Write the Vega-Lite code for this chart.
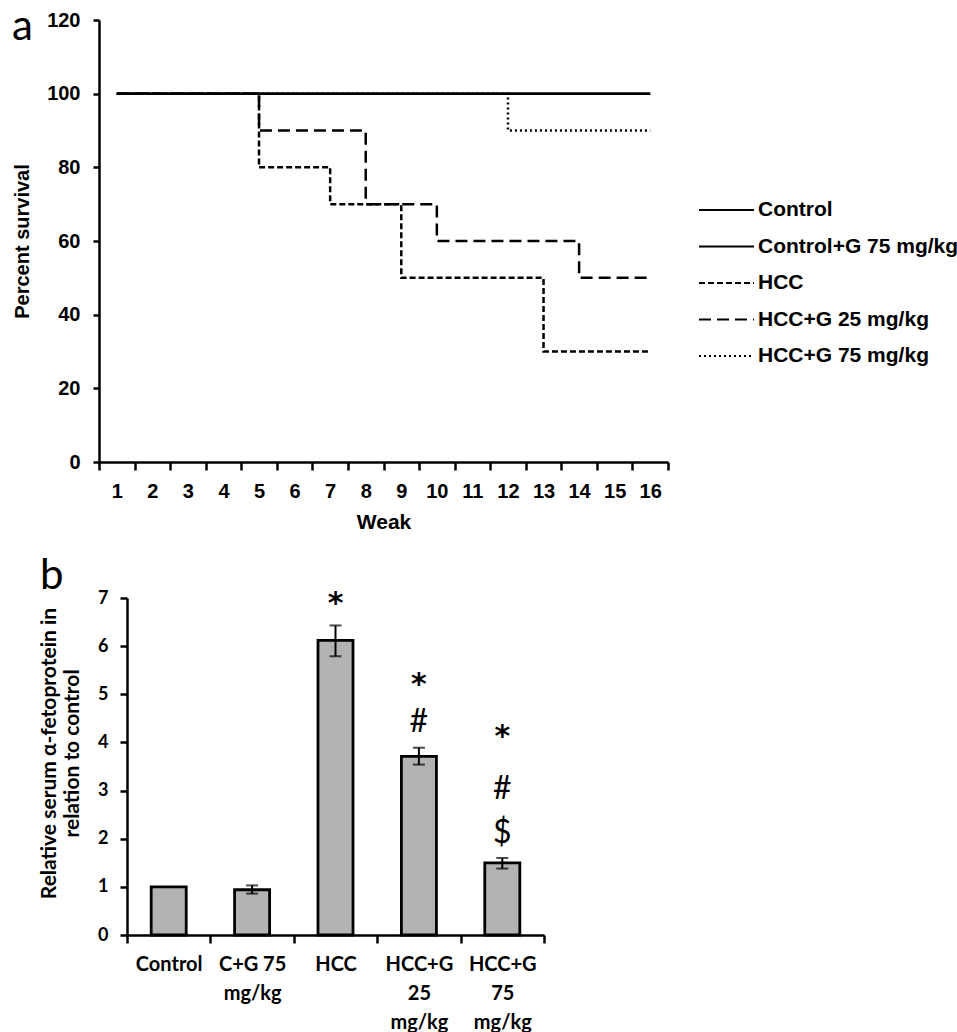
{
  "$schema": "https://vega.github.io/schema/vega-lite/v6.json",
  "padding": {"left": 12, "top": 6, "right": 0, "bottom": 0},
  "background": "white",
  "bounds": "flush",
  "spacing": 136,
  "config": {
    "view": {"stroke": null},
    "axis": {"domainColor": "black", "tickColor": "black", "labelColor": "black", "titleColor": "black", "grid": false, "domainWidth": 2.5, "tickWidth": 2.5}
  },
  "vconcat": [
    {
      "width": 569,
      "height": 442,
      "title": {"text": "a", "anchor": "start", "frame": "group", "font": "Lato", "fontSize": 42, "fontWeight": "normal", "color": "black", "baseline": "alphabetic", "dx": -87, "dy": 72, "offset": 0},
      "data": {"values": [
        {"group": "Control", "week": 1, "survival": 100},
        {"group": "Control", "week": 16, "survival": 100},
        {"group": "Control+G 75 mg/kg", "week": 1, "survival": 100},
        {"group": "Control+G 75 mg/kg", "week": 16, "survival": 100},
        {"group": "HCC", "week": 1, "survival": 100},
        {"group": "HCC", "week": 5, "survival": 80},
        {"group": "HCC", "week": 7, "survival": 70},
        {"group": "HCC", "week": 9, "survival": 50},
        {"group": "HCC", "week": 13, "survival": 30},
        {"group": "HCC", "week": 16, "survival": 30},
        {"group": "HCC+G 25 mg/kg", "week": 1, "survival": 100},
        {"group": "HCC+G 25 mg/kg", "week": 5, "survival": 90},
        {"group": "HCC+G 25 mg/kg", "week": 8, "survival": 70},
        {"group": "HCC+G 25 mg/kg", "week": 10, "survival": 60},
        {"group": "HCC+G 25 mg/kg", "week": 14, "survival": 50},
        {"group": "HCC+G 25 mg/kg", "week": 16, "survival": 50},
        {"group": "HCC+G 75 mg/kg", "week": 1, "survival": 100},
        {"group": "HCC+G 75 mg/kg", "week": 12, "survival": 90},
        {"group": "HCC+G 75 mg/kg", "week": 16, "survival": 90}
      ]},
      "mark": {"type": "line", "interpolate": "step-after", "color": "black", "strokeWidth": 2.5},
      "encoding": {
        "x": {
          "field": "week", "type": "ordinal",
          "scale": {"type": "band", "domain": [1,2,3,4,5,6,7,8,9,10,11,12,13,14,15,16], "paddingInner": 0, "paddingOuter": 0},
          "axis": {"title": "Weak", "labelAngle": 0, "tickBand": "extent", "tickSize": 8, "labelPadding": 11, "labelFont": "Liberation Sans", "labelFontSize": 20, "labelFontWeight": "bold", "titleFont": "Liberation Sans", "titleFontSize": 21, "titleFontWeight": "bold", "titlePadding": 10}
        },
        "y": {
          "field": "survival", "type": "quantitative",
          "scale": {"domain": [0, 120], "nice": false},
          "axis": {"title": "Percent survival", "values": [0,20,40,60,80,100,120], "tickSize": 6, "labelPadding": 13, "labelFont": "Liberation Sans", "labelFontSize": 20, "labelFontWeight": "bold", "titleFont": "Liberation Sans", "titleFontSize": 20, "titleFontWeight": "bold", "titlePadding": 14}
        },
        "strokeDash": {
          "field": "group", "type": "nominal",
          "scale": {"domain": ["Control", "Control+G 75 mg/kg", "HCC", "HCC+G 25 mg/kg", "HCC+G 75 mg/kg"], "range": [[1,0],[1,0],[6,3],[12,6],[2,3]]},
          "legend": {"title": null, "orient": "none", "legendX": 599, "legendY": 180, "padding": 0, "symbolType": "stroke", "symbolSize": 3025, "symbolStrokeWidth": 2, "symbolStrokeColor": "black", "clipHeight": 20, "rowPadding": 15.5, "labelOffset": 3, "labelLimit": 400, "labelFont": "Liberation Sans", "labelFontSize": 21, "labelFontWeight": "bold", "labelColor": "black"}
        }
      }
    },
    {
      "width": 445,
      "height": 337,
      "title": {"text": "b", "anchor": "start", "frame": "group", "font": "Lato", "fontSize": 42, "fontWeight": "normal", "color": "black", "baseline": "alphabetic", "dx": -59, "dy": 42, "offset": 0},
      "data": {"values": [
        {"group": "Control", "value": 1.0},
        {"group": "C+G 75\nmg/kg", "value": 0.94, "lo": 0.86, "hi": 1.03},
        {"group": "HCC", "value": 6.12, "lo": 5.79, "hi": 6.43},
        {"group": "HCC+G\n25\nmg/kg", "value": 3.71, "lo": 3.54, "hi": 3.89},
        {"group": "HCC+G\n75\nmg/kg", "value": 1.5, "lo": 1.38, "hi": 1.6}
      ]},
      "encoding": {
        "x": {
          "field": "group", "type": "nominal",
          "scale": {"type": "band", "domain": ["Control", "C+G 75\nmg/kg", "HCC", "HCC+G\n25\nmg/kg", "HCC+G\n75\nmg/kg"], "range": [28, 445], "paddingInner": 0, "paddingOuter": 0},
          "axis": {"title": null, "labelAngle": 0, "tickBand": "extent", "tickSize": 8, "labelPadding": 11, "labelExpr": "split(datum.label, '\\n')", "labelLineHeight": 29, "labelFont": "Lato", "labelFontSize": 20, "labelFontWeight": "bold"}
        }
      },
      "layer": [
        {
          "mark": {"type": "bar", "fill": "#b3b3b3", "stroke": "black", "strokeWidth": 2.8, "width": {"band": 0.42}},
          "encoding": {
            "y": {
              "field": "value", "type": "quantitative",
              "scale": {"domain": [0, 7], "nice": false},
              "axis": {"title": ["Relative serum α-fetoprotein in", "relation to control"], "titleY": 155, "offset": -28, "values": [0,1,2,3,4,5,6,7], "tickSize": 7, "labelPadding": 12, "labelFont": "Lato", "labelFontSize": 18, "labelFontWeight": "bold", "titleFont": "Lato", "titleFontSize": 21, "titleFontWeight": "bold", "titleLineHeight": 23, "titlePadding": 15}
            }
          }
        },
        {
          "transform": [{"filter": "isValid(datum.lo)"}],
          "mark": {"type": "rule", "color": "black", "strokeWidth": 2},
          "encoding": {"y": {"field": "lo", "type": "quantitative"}, "y2": {"field": "hi"}}
        },
        {
          "transform": [{"filter": "isValid(datum.lo)"}],
          "mark": {"type": "tick", "color": "black", "size": 12, "thickness": 2, "orient": "horizontal"},
          "encoding": {"y": {"field": "lo", "type": "quantitative"}}
        },
        {
          "transform": [{"filter": "isValid(datum.hi)"}],
          "mark": {"type": "tick", "color": "black", "size": 12, "thickness": 2, "orient": "horizontal"},
          "encoding": {"y": {"field": "hi", "type": "quantitative"}}
        },
        {
          "data": {"values": [
            {"group": "HCC", "mark": "*", "at": 7.04},
            {"group": "HCC+G\n25\nmg/kg", "mark": "*", "at": 5.36},
            {"group": "HCC+G\n25\nmg/kg", "mark": "#", "at": 4.42},
            {"group": "HCC+G\n75\nmg/kg", "mark": "*", "at": 4.28},
            {"group": "HCC+G\n75\nmg/kg", "mark": "#", "at": 3.03},
            {"group": "HCC+G\n75\nmg/kg", "mark": "$", "at": 2.12}
          ]},
          "layer": [
            {
              "transform": [{"filter": "datum.mark == '*'"}],
              "mark": {"type": "text", "font": "DejaVu Sans", "fontWeight": "bold", "fontSize": 30, "color": "black", "baseline": "alphabetic", "align": "center", "dy": 17},
              "encoding": {"y": {"field": "at", "type": "quantitative"}, "text": {"field": "mark"}}
            },
            {
              "transform": [{"filter": "datum.mark != '*'"}],
              "mark": {"type": "text", "font": "Lato", "fontSize": 32, "color": "black", "baseline": "middle", "align": "center"},
              "encoding": {"y": {"field": "at", "type": "quantitative"}, "text": {"field": "mark"}}
            }
          ]
        }
      ]
    }
  ]
}
